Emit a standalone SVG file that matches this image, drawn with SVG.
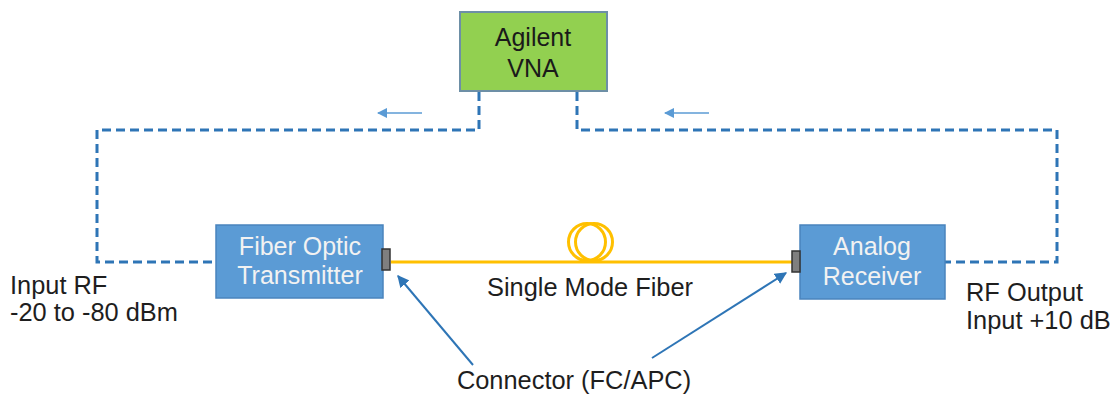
<svg xmlns="http://www.w3.org/2000/svg" width="1118" height="396" viewBox="0 0 1118 396">
<style>
.lbl{font-family:"Liberation Sans",Arial,sans-serif;font-size:25.4px;fill:#1e1e1e}
.box{fill:#5b9bd5;stroke:#4a84bd;stroke-width:1.5}
.btxt{font-family:"Liberation Sans",Arial,sans-serif;font-size:25px;fill:#f2f2f2;text-anchor:middle}
.dash{fill:none;stroke:#2e75b6;stroke-width:3;stroke-dasharray:9 5}
.ptr{fill:none;stroke:#2e75b6;stroke-width:2}
.small{fill:none;stroke:#5b9bd5;stroke-width:1.5}
.conn{fill:#7f7f7f;stroke:#333;stroke-width:1.5}
</style>
<defs>
<marker id="ah" viewBox="0 0 10 10" refX="9" refY="5" markerWidth="6" markerHeight="6" orient="auto" markerUnits="strokeWidth">
<path d="M0,0 L10,5 L0,10 z" fill="#2e75b6"/>
</marker>
<marker id="ahs" viewBox="0 0 10 10" refX="9" refY="5" markerWidth="7" markerHeight="7" orient="auto" markerUnits="strokeWidth">
<path d="M0,0 L10,5 L0,10 z" fill="#5b9bd5"/>
</marker>
</defs>
<g id="connectors">
<path class="dash" d="M479,92 V130 H97 V262 H216"/>
<path class="dash" d="M577,92 V130 H1057 V262 H945"/>
<line class="small" x1="422" y1="113" x2="378" y2="113" marker-end="url(#ahs)"/>
<line class="small" x1="709" y1="113" x2="665" y2="113" marker-end="url(#ahs)"/>
<line x1="391" y1="262" x2="792" y2="262" stroke="#ffc000" stroke-width="3"/>
<circle cx="587" cy="242" r="18.5" fill="none" stroke="#ffc000" stroke-width="3"/>
<circle cx="594" cy="242" r="18.5" fill="none" stroke="#ffc000" stroke-width="3"/>
<line class="ptr" x1="473" y1="365" x2="398" y2="276" marker-end="url(#ah)"/>
<line class="ptr" x1="652" y1="358" x2="786" y2="273" marker-end="url(#ah)"/>
</g>
<g id="vna">
<rect x="460" y="12" width="147" height="79" fill="#92d050" stroke="#6d8fa6" stroke-width="2"/>
<text class="btxt" x="533" y="46" style="fill:#1a1a1a">Agilent</text>
<text class="btxt" x="533" y="77" style="fill:#1a1a1a">VNA</text>
</g>
<g id="transmitter">
<rect class="box" x="216" y="225" width="167" height="73"/>
<text class="btxt" x="300" y="255">Fiber Optic</text>
<text class="btxt" x="300" y="284">Transmitter</text>
<rect class="conn" x="382" y="249" width="8" height="21"/>
</g>
<g id="receiver">
<rect class="box" x="800" y="225" width="145" height="74"/>
<text class="btxt" x="872" y="255">Analog</text>
<text class="btxt" x="872" y="285">Receiver</text>
<rect class="conn" x="792" y="251" width="8" height="21"/>
</g>
<g id="labels">
<text class="lbl" x="10" y="294">Input RF</text>
<text class="lbl" x="10" y="321">-20 to -80 dBm</text>
<text class="lbl" x="590" y="296" text-anchor="middle">Single Mode Fiber</text>
<text class="lbl" x="574" y="389" text-anchor="middle">Connector (FC/APC)</text>
<text class="lbl" x="966" y="301">RF Output</text>
<text class="lbl" x="966" y="329">Input +10 dB</text>
</g>
</svg>
